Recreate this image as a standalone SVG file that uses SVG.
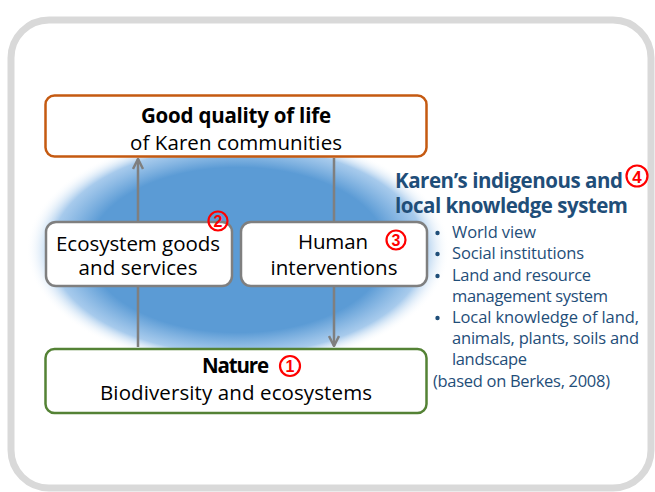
<svg xmlns="http://www.w3.org/2000/svg" width="655" height="492" viewBox="0 0 655 492">
  <defs>
    <radialGradient id="haze" cx="0.5" cy="0.5" r="0.5">
      <stop offset="0" stop-color="#5b9bd5"/>
      <stop offset="0.7" stop-color="#5b9bd5"/>
      <stop offset="0.88" stop-color="#8ab9e6" stop-opacity="0.75"/>
      <stop offset="1" stop-color="#ffffff" stop-opacity="0"/>
    </radialGradient>
    <marker id="chev" viewBox="0 0 10 10" refX="9" refY="5" markerWidth="5" markerHeight="5" orient="auto" markerUnits="strokeWidth">
      <polyline points="1,1 9,5 1,9" fill="none" stroke="#7f7f7f" stroke-width="2"/>
    </marker>
    <style>
      .box { fill: #ffffff; stroke-width: 2.5; }
      .lbl { font-family: "Open Sans", "Liberation Sans", sans-serif; font-size: 20.5px; fill: #000000; text-anchor: middle; }
      .b { font-weight: bold; }
      .ring { fill: none; stroke: #ff0000; stroke-width: 2.2; }
      .dig { font-family: "Liberation Sans", "Open Sans", sans-serif; font-weight: bold; fill: #ff0000; text-anchor: middle; }
      .ks { font-family: "Open Sans", "Liberation Sans", sans-serif; fill: #1f4e79; }
      .ttl { font-size: 20.5px; font-weight: bold; }
      .itm { font-size: 16.5px; }
      .link { stroke: #7f7f7f; stroke-width: 2.5; fill: none; }
    </style>
  </defs>

  <!-- outer frame -->
  <rect x="11" y="20" width="640" height="468" rx="38" fill="#ffffff" stroke="#d9d9d9" stroke-width="7"/>

  <!-- blue haze behind the cycle -->
  <ellipse cx="238" cy="250" rx="212" ry="118" fill="url(#haze)"/>

  <!-- connectors -->
  <g id="connectors">
    <line class="link" x1="138" y1="347" x2="138" y2="159" marker-end="url(#chev)"/>
    <line class="link" x1="334" y1="158" x2="334" y2="346" marker-end="url(#chev)"/>
  </g>

  <g id="quality">
    <rect class="box" x="45.5" y="95.5" width="381" height="61" rx="9" stroke="#c55a11"/>
    <text class="lbl b" x="236" y="123" textLength="190">Good quality of life</text>
    <text class="lbl" x="236" y="150" textLength="212">of Karen communities</text>
  </g>

  <g id="ecosystem">
    <rect class="box" x="46" y="222" width="186" height="64" rx="10" stroke="#7f7f7f"/>
    <text class="lbl" x="138" y="251" textLength="164">Ecosystem goods</text>
    <text class="lbl" x="138" y="275" textLength="119">and services</text>
    <circle class="ring" cx="218" cy="221" r="9.5"/>
    <text class="dig" x="218" y="227" font-size="16">2</text>
  </g>

  <g id="human">
    <rect class="box" x="241" y="222" width="186" height="64" rx="10" stroke="#7f7f7f"/>
    <text class="lbl" x="333" y="249" textLength="70">Human</text>
    <text class="lbl" x="334" y="275" textLength="127">interventions</text>
    <circle class="ring" cx="396" cy="240" r="9.5"/>
    <text class="dig" x="396" y="246" font-size="16">3</text>
  </g>

  <g id="nature">
    <rect class="box" x="45.5" y="349" width="381" height="64" rx="9" stroke="#548235"/>
    <text class="lbl b" x="235.5" y="373" textLength="67">Nature</text>
    <text class="lbl" x="236" y="400" textLength="272">Biodiversity and ecosystems</text>
    <circle class="ring" cx="290" cy="366" r="10"/>
    <text class="dig" x="290" y="372" font-size="16">1</text>
  </g>

  <g id="knowledge">
    <text class="ks ttl" x="395" y="188" textLength="228">Karen’s indigenous and</text>
    <text class="ks ttl" x="395" y="213" textLength="233">local knowledge system</text>
    <circle class="ring" cx="637" cy="176" r="10.5"/>
    <text class="dig" x="637" y="182.5" font-size="17">4</text>
    <g class="ks itm">
      <circle cx="437.5" cy="233" r="2.2"/>
      <text x="452" y="238" textLength="84">World view</text>
      <circle cx="437.5" cy="254" r="2.2"/>
      <text x="452" y="259" textLength="132">Social institutions</text>
      <circle cx="437.5" cy="276" r="2.2"/>
      <text x="452" y="281" textLength="139">Land and resource</text>
      <text x="452" y="302" textLength="156">management system</text>
      <circle cx="437.5" cy="318" r="2.2"/>
      <text x="452" y="323" textLength="187">Local knowledge of land,</text>
      <text x="452" y="344" textLength="187">animals, plants, soils and</text>
      <text x="452" y="365" textLength="75">landscape</text>
      <text x="433" y="387" textLength="177">(based on Berkes, 2008)</text>
    </g>
  </g>
</svg>
